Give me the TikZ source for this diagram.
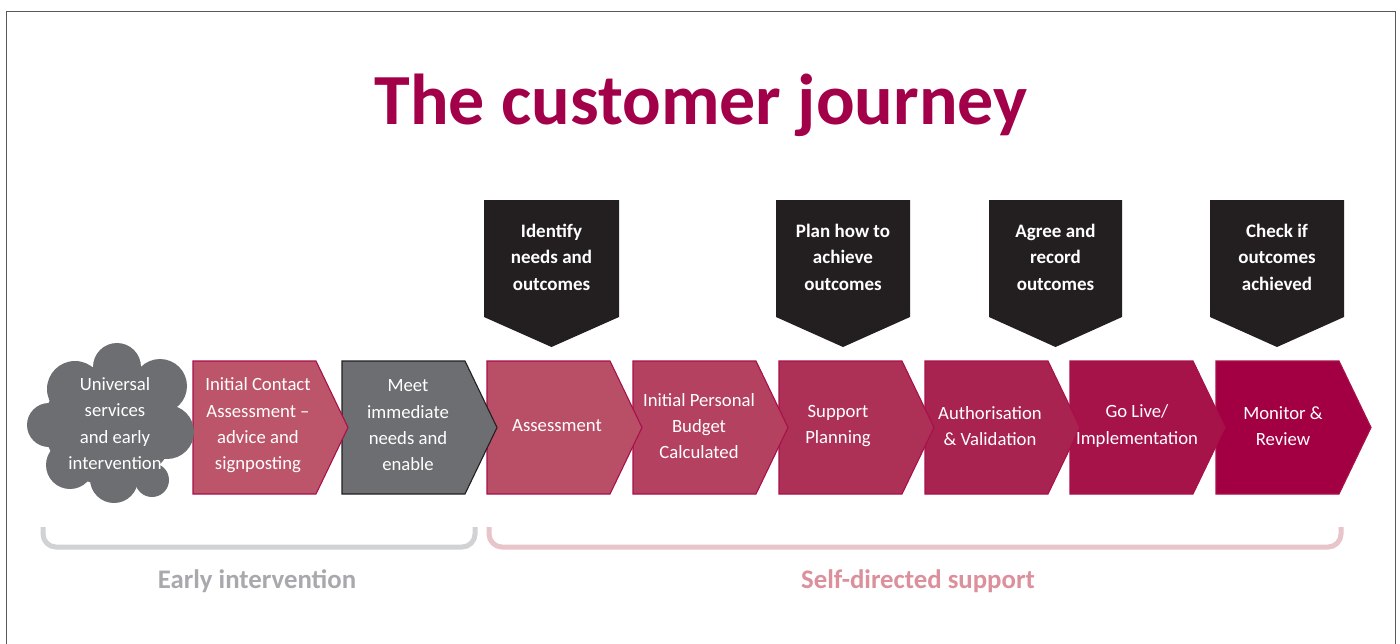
\documentclass[tikz,border=0pt]{standalone}
\usepackage{fontspec}
\setmainfont{Carlito}
\definecolor{titlered}{HTML}{A3004A}
\definecolor{cgray}{HTML}{6D6E71}
\definecolor{cblack}{HTML}{231F20}
\definecolor{cA}{HTML}{BC5569}
\definecolor{cB}{HTML}{B94F67}
\definecolor{cC}{HTML}{B3415F}
\definecolor{cD}{HTML}{AD3057}
\definecolor{cE}{HTML}{A8234F}
\definecolor{cF}{HTML}{A51349}
\definecolor{cG}{HTML}{A30044}
\definecolor{edgered}{HTML}{A8104A}
\definecolor{brgray}{HTML}{D1D2D4}
\definecolor{brpink}{HTML}{E8C4CB}
\definecolor{lblgray}{HTML}{A7A9AC}
\definecolor{lblpink}{HTML}{DB909C}
\newcommand\chevshape[3]{%
  \filldraw[fill=#2,draw=#3,line width=1.1pt,line join=miter]
    (#1,361) -- ++(123,0) -- ++(32,66.5) -- ++(-32,66.5) -- ++(-123,0) -- cycle;}
\newcommand\callshape[2]{%
  \fill[cblack] (#1,200) -- (#2,200) -- (#2,317) -- ({(#1+#2)/2},347) -- (#1,317) -- cycle;}
\tikzset{
  ctext/.style={text=white,align=center,inner sep=0pt,font=\fontsize{18.7}{26.3}\selectfont},
  btext/.style={text=white,align=center,inner sep=0pt,font=\fontsize{19}{26.5}\selectfont\bfseries},
  bracket/.style={line width=5pt,rounded corners=13pt},
  lbl/.style={anchor=base,inner sep=0pt,font=\fontsize{26.8}{30}\selectfont\bfseries}
}
\begin{document}
\begin{tikzpicture}[x=1pt,y=-1pt]
\useasboundingbox (0,0) rectangle (1400,643);
\fill[white] (0,0) rectangle (1400,643);
\draw[line width=1.6pt,color=black!65] (6.5,11.5) rectangle (1395.5,660);
% title
\node[anchor=base,inner sep=0pt,text=titlered,font=\fontsize{72}{80}\selectfont\bfseries] (title) at (701,124) {The customer journey};
% callouts
\callshape{484}{619}
\callshape{776}{910}
\callshape{989}{1122}
\callshape{1210}{1344}
\node[btext] (k1) at (551.5,257) {Identify\\needs and\\outcomes};
\node[btext] (k2) at (843,257) {Plan how to\\achieve\\outcomes};
\node[btext] (k3) at (1055.5,257) {Agree and\\record\\outcomes};
\node[btext] (k4) at (1277,257) {Check if\\outcomes\\achieved};
% chevrons (right to left)
\chevshape{1216}{cG}{edgered}
\chevshape{1070}{cF}{edgered}
\chevshape{925}{cE}{edgered}
\chevshape{779}{cD}{edgered}
\chevshape{633}{cC}{edgered}
\chevshape{487}{cB}{edgered}
\chevshape{342}{cgray}{cblack}
\chevshape{193}{cA}{edgered}
% cloud
\begin{scope}
\fill[cgray] (110,425) ellipse [x radius=66, y radius=60];
\fill[cgray] (117,367) circle (24);
\fill[cgray] (75,389) circle (28);
\fill[cgray] (49,425) circle (22);
\fill[cgray] (70,465) circle (24);
\fill[cgray] (114,479) circle (24);
\fill[cgray] (152,480) circle (17);
\fill[cgray] (167,432) circle (27);
\fill[cgray] (160,386) circle (27);
\end{scope}
\node[ctext] (c0) at (115,423.5) {Universal\\services\\and early\\intervention};
\node[ctext] (c1) at (258,425.5) {Initial Contact\\Assessment –\\advice and\\signposting};
\node[ctext] (c2) at (408,425.5) {Meet\\immediate\\needs and\\enable};
\node[ctext] (c3) at (557,426) {Assessment};
\node[ctext] (c4) at (699,426) {Initial Personal\\Budget\\Calculated};
\node[ctext] (c5) at (838,426) {Support\\Planning};
\node[ctext] (c6) at (990,426) {Authorisation\\\&~Validation};
\node[ctext] (c7) at (1137,426) {Go Live/\\Implementation};
\node[ctext] (c8) at (1283,426) {Monitor \&\\Review};
% brackets
\draw[bracket,brgray] (43,527) -- (43,547) -- (475,547) -- (475,527);
\draw[bracket,brpink] (489,527) -- (489,547) -- (1341,547) -- (1341,527);
\node[lbl,text=lblgray] (l1) at (257,588) {Early intervention};
\node[lbl,text=lblpink] (l2) at (918,588) {Self-directed support};
\end{tikzpicture}
\end{document}
